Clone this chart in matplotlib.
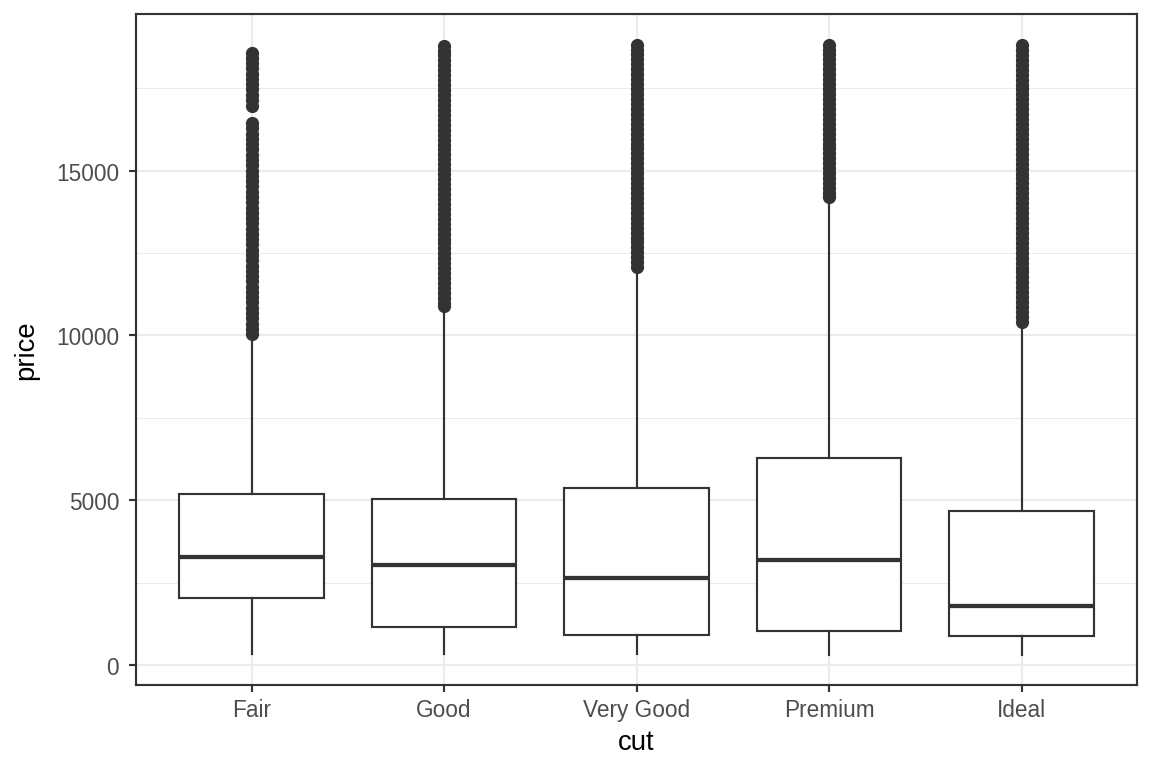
import matplotlib
matplotlib.use("Agg")
import matplotlib.pyplot as plt
from matplotlib.ticker import FixedLocator

plt.rcParams['font.family'] = ['Liberation Sans', 'DejaVu Sans']

categories = ["Fair", "Good", "Very Good", "Premium", "Ideal"]
q1 = [2050, 1145, 912, 1046, 878]
median = [3282, 3050, 2648, 3185, 1810]
q3 = [5206, 5028, 5373, 6296, 4678]
whislo = [337, 327, 336, 326, 326]
whishi = [9800, 10800, 12000, 14100, 10350]

outliers_fair = [18574, 18420, 18260, 18100, 17940, 17780, 17620, 17460,
                 17300, 17140, 16960, 16440, 16280, 16120, 15960, 15800,
                 15640, 15480, 15320, 15160, 15000, 14840, 14680, 14520,
                 14360, 14200, 14040, 13880, 13720, 13560, 13400, 13240,
                 13080, 12920, 12760, 12600, 12440, 12280, 12120, 11960,
                 11800, 11640, 11480, 11320, 11160, 11000, 10840, 10680,
                 10520, 10360, 10200, 10040]
outliers_good = [18788, 18640, 18490, 18340, 18190, 18040, 17890, 17740,
                 17590, 17440, 17290, 17140, 16990, 16840, 16690, 16540,
                 16390, 16240, 16090, 15940, 15790, 15640, 15490, 15340,
                 15190, 15040, 14890, 14740, 14590, 14440, 14290, 14140,
                 13990, 13840, 13690, 13540, 13390, 13240, 13090, 12940,
                 12790, 12640, 12490, 12340, 12190, 12040, 11890, 11740,
                 11590, 11440, 11290, 11140, 10990, 10880]
outliers_verygood = [18818, 18670, 18520, 18370, 18220, 18070, 17920, 17770,
                     17620, 17470, 17320, 17170, 17020, 16870, 16720, 16570,
                     16420, 16270, 16120, 15970, 15820, 15670, 15520, 15370,
                     15220, 15070, 14920, 14770, 14620, 14470, 14320, 14170,
                     14020, 13870, 13720, 13570, 13420, 13270, 13120, 12970,
                     12820, 12670, 12520, 12370, 12220, 12090]
outliers_premium = [18823, 18670, 18520, 18370, 18220, 18070, 17920, 17770,
                    17620, 17470, 17320, 17170, 17020, 16870, 16720, 16570,
                    16420, 16270, 16120, 15970, 15820, 15670, 15520, 15370,
                    15220, 15070, 14920, 14770, 14620, 14470, 14320, 14190]
outliers_ideal = [18806, 18660, 18510, 18360, 18210, 18060, 17910, 17760,
                  17610, 17460, 17310, 17160, 17010, 16860, 16710, 16560,
                  16410, 16260, 16110, 15960, 15810, 15660, 15510, 15360,
                  15210, 15060, 14910, 14760, 14610, 14460, 14310, 14160,
                  14010, 13860, 13710, 13560, 13410, 13260, 13110, 12960,
                  12810, 12660, 12510, 12360, 12210, 12060, 11910, 11760,
                  11610, 11460, 11310, 11160, 11010, 10860, 10710, 10560,
                  10400]
outliers = [outliers_fair, outliers_good, outliers_verygood,
            outliers_premium, outliers_ideal]

yticks = [0, 5000, 10000, 15000]
ytick_labels = ["0", "5000", "10000", "15000"]
yminor = [2500, 7500, 12500, 17500]

dark = "#333333"
grid = "#EBEBEB"

fig = plt.figure(figsize=(8, 5.3333), dpi=144)
ax = fig.add_axes([136/1152, 1-686/768, (1137-136)/1152, (686-15)/768])

stats = []
for i, c in enumerate(categories):
    stats.append(dict(label=c, q1=q1[i], med=median[i], q3=q3[i],
                      whislo=whislo[i], whishi=whishi[i], fliers=outliers[i]))

positions = list(range(1, len(categories) + 1))
ax.bxp(stats, positions=positions, widths=0.75, showcaps=False,
       patch_artist=True,
       boxprops=dict(facecolor="white", edgecolor=dark, linewidth=1.07),
       whiskerprops=dict(color=dark, linewidth=1.07),
       medianprops=dict(color=dark, linewidth=2.13, solid_capstyle="butt"),
       flierprops=dict(marker="o", markerfacecolor=dark, markeredgecolor=dark,
                       markersize=5.6, linestyle="none"),
       zorder=3)

ymin, ymax = 326, 18823
pad = (ymax - ymin) * 0.05
ax.set_ylim(ymin - pad, ymax + pad)
ax.set_xlim(0.4, 5.6)

ax.set_xticks(positions)
ax.set_xticklabels(categories)
ax.yaxis.set_major_locator(FixedLocator(yticks))
ax.set_yticklabels(ytick_labels)
ax.yaxis.set_minor_locator(FixedLocator(yminor))

ax.grid(which="major", color=grid, linewidth=1.07, zorder=0)
ax.grid(which="minor", axis="y", color=grid, linewidth=0.53, zorder=0)
ax.set_axisbelow(True)

ax.tick_params(axis="both", which="major", length=3.44, width=1.07,
               color=dark, labelcolor="#4D4D4D", labelsize=11.3, pad=5)
ax.tick_params(axis="x", which="major", pad=3)
ax.tick_params(axis="y", which="minor", length=0)

for s in ax.spines.values():
    s.set_color(dark)
    s.set_linewidth(1.07)

ax.set_xlabel("cut", fontsize=13.75, color="black", labelpad=4)
ax.set_ylabel("price", fontsize=13.75, color="black", labelpad=8.5)

fig.savefig("out.png", dpi=144, facecolor="white")
